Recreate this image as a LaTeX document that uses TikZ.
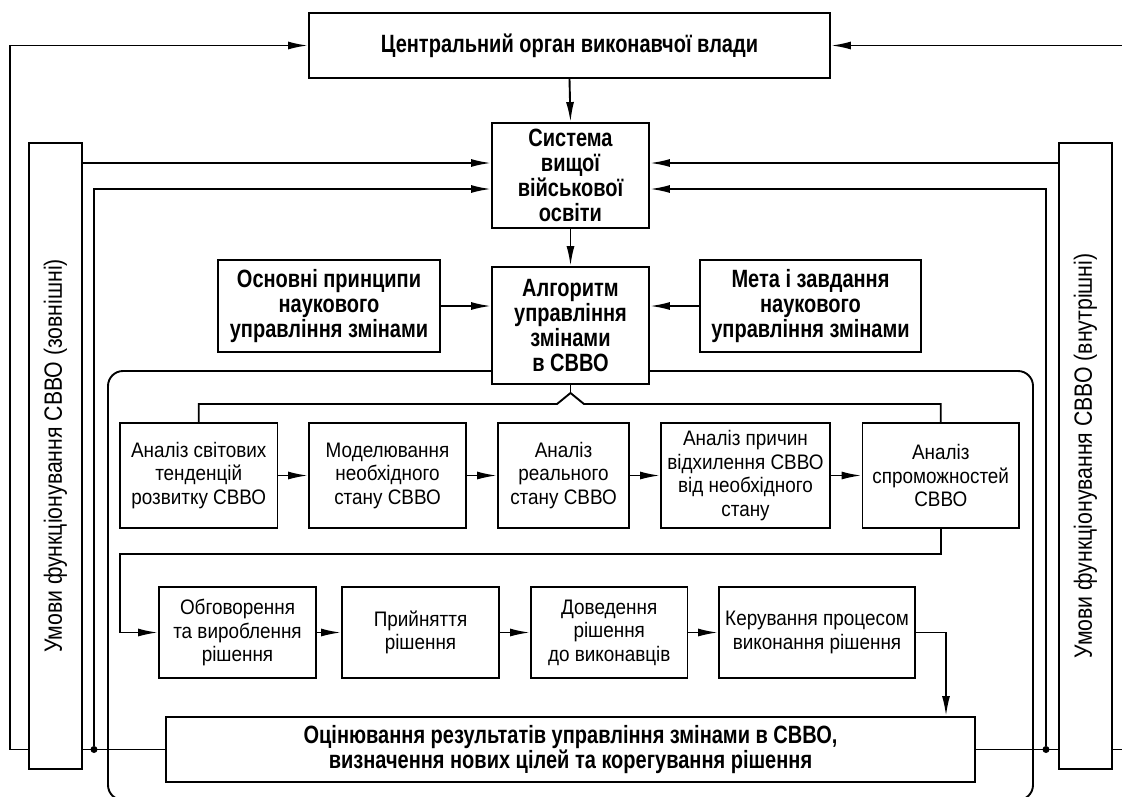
\documentclass[tikz,border=0pt]{standalone}
\usepackage{fontspec}
\setmainfont[FakeStretch=0.9]{Liberation Sans}
\newfontfamily\bcond[FakeStretch=0.8]{Liberation Sans}
\newfontfamily\vcond[FakeStretch=0.85]{Liberation Sans}
\usetikzlibrary{arrows.meta}
\tikzset{
  ln/.style={line width=1.9pt},
  box/.style={draw, line width=1.9pt, fill=white, inner sep=0pt, align=center},
  bbox/.style={box, font=\bcond\bfseries\fontsize{25}{25}\selectfont},
  rbox/.style={box, font=\fontsize{21}{23.5}\selectfont},
  vtext/.style={rotate=90, inner sep=0pt, font=\vcond\fontsize{25}{26}\selectfont},
  arr/.style={line width=1.9pt, -{Latex[length=20pt,width=8pt]}},
  dot/.style={circle, fill=black, inner sep=0pt, minimum size=7pt}
}
\begin{document}
\begin{tikzpicture}[x=1pt,y=-1pt]
\useasboundingbox (0,0) rectangle (1122,796);
% bracket
\begin{scope}
  \clip (0,0) rectangle (1122,796);
  \draw[ln, rounded corners=15pt] (108,371) rectangle (1033,800);
\end{scope}
% coordinates
\coordinate (oL) at (9.6,0);
\coordinate (oR) at (1122,0);
\coordinate (yA) at (0,163);
\coordinate (yB) at (0,189);
\coordinate (k1) at (120,554);
\coordinate (xk) at (946,0);
\coordinate (bl) at (557,404);
\coordinate (bt) at (570.5,393);
\coordinate (br) at (584,404);
\node[dot] (dl) at (94,749.5) {};
\node[dot] (dr) at (1046,749.5) {};
% boxes
\node[box, minimum width=53pt, minimum height=626pt] (lcond) at (55.5,456) {};
\node[box, minimum width=53pt, minimum height=626pt] (rcond) at (1085.5,456) {};
\node[vtext] (lct) at (lcond.center) {Умови функціонування СВВО (зовнішні)};
\node[vtext] (rct) at (rcond.center) {Умови функціонування СВВО (внутрішні)};

\node[bbox, minimum width=521pt, minimum height=65pt] (top) at (569.5,45.5) {Центральний орган виконавчої влади};
\node[bbox, minimum width=157pt, minimum height=105pt] (sys) at (570.5,175.5) {Система\\вищої\\військової\\освіти};
\node[bbox, minimum width=157pt, minimum height=117pt] (alg) at (570.5,325.5) {Алгоритм\\управління\\змінами\\в СВВО};
\node[bbox, minimum width=222pt, minimum height=92pt] (osn) at (329,306) {Основні принципи\\наукового\\управління змінами};
\node[bbox, minimum width=221pt, minimum height=92pt] (meta) at (810.5,306) {Мета і завдання\\наукового\\управління змінами};

\node[rbox, minimum width=157.5pt, minimum height=105pt] (r1a) at (198.75,475.5) {Аналіз світових\\тенденцій\\розвитку СВВО};
\node[rbox, minimum width=157pt, minimum height=105pt] (r1b) at (387.5,475.5) {Моделювання\\необхідного\\стану СВВО};
\node[rbox, minimum width=131pt, minimum height=105pt] (r1c) at (563.5,475.5) {Аналіз\\реального\\стану СВВО};
\node[rbox, minimum width=169pt, minimum height=105pt] (r1d) at (745.5,475.5) {Аналіз причин\\відхилення СВВО\\від необхідного\\стану};
\node[rbox, minimum width=156.5pt, minimum height=105pt] (r1e) at (940.75,475.5) {Аналіз\\спроможностей\\СВВО};

\node[rbox, minimum width=157pt, minimum height=91pt] (r2a) at (237.5,632.5) {Обговорення\\та вироблення\\рішення};
\node[rbox, minimum width=157pt, minimum height=91pt] (r2b) at (420.5,632.5) {Прийняття\\рішення};
\node[rbox, minimum width=156.5pt, minimum height=91pt] (r2c) at (609.25,632.5) {Доведення\\рішення\\до виконавців};
\node[rbox, minimum width=196pt, minimum height=91pt] (r2d) at (817,632.5) {Керування процесом\\виконання рішення};

\node[bbox, minimum width=809pt, minimum height=65pt] (eval) at (570.5,749.5) {Оцінювання результатів управління змінами в СВВО,\\визначення нових цілей та корегування рішення};

% outer feedback
\draw[ln] (eval.west) -- (lcond.east |- eval.west);
\draw[ln] (lcond.west |- eval.west) -- (eval.west -| oL);
\draw[arr] (eval.west -| oL) -- (oL |- top.west) -- (top.west);
\draw[arr] (dl) -- (dl |- yB) -- (sys.west |- yB);
\draw[ln] (eval.east) -- (rcond.west |- eval.east);
\draw[ln] (rcond.east |- eval.east) -- (eval.east -| oR);
\draw[arr] (oR |- top.east) -- (top.east);
\draw[arr] (dr) -- (dr |- yB) -- (sys.east |- yB);
\draw[arr] (lcond.east |- yA) -- (sys.west |- yA);
\draw[arr] (rcond.west |- yA) -- (sys.east |- yA);
% main chain
\draw[arr] (top.south) -- (sys.north);
\draw[arr] (sys.south) -- (alg.north);
\draw[arr] (osn.east) -- (osn.east -| alg.west);
\draw[arr] (meta.west) -- (meta.west -| alg.east);
% brace
\draw[ln] (alg.south) -- (bt);
\draw[ln] (r1a.north) |- (bl) -- (bt) -- (br) -| (r1e.north);
% row 1
\draw[arr] (r1a.east) -- (r1b.west);
\draw[arr] (r1b.east) -- (r1c.west);
\draw[arr] (r1c.east) -- (r1d.west);
\draw[arr] (r1d.east) -- (r1e.west);
\draw[arr] (r1e.south) |- (k1) |- (r2a.west);
% row 2
\draw[arr] (r2a.east) -- (r2b.west);
\draw[arr] (r2b.east) -- (r2c.west);
\draw[arr] (r2c.east) -- (r2d.west);
\draw[arr] (r2d.east) -| (xk |- eval.north);
\end{tikzpicture}
\end{document}
